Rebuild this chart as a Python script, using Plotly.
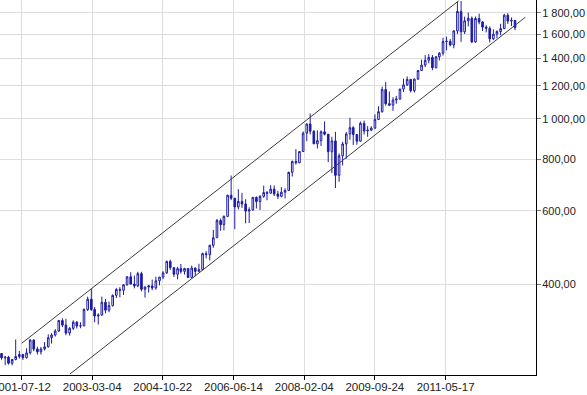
import pandas as pd
import plotly.graph_objects as go

# Monthly candles, Jan 2001 .. Dec 2012
months = pd.date_range("2001-01-01", "2012-12-01", freq="MS")
dates = months + pd.Timedelta(days=24)

open_ = [
    272.0, 265.6, 266.7, 257.7, 263.2, 267.5, 270.6, 265.9, 273.0, 293.1, 278.8, 274.7,
    279.0, 282.3, 296.9, 301.4, 308.2, 326.6, 318.5, 304.7, 312.8, 323.7, 316.9, 317.2,
    347.2, 367.5, 347.5, 334.9, 336.8, 361.4, 346.0, 354.8, 375.6, 388.0, 386.3, 398.4,
    416.3, 399.8, 395.9, 423.7, 388.5, 393.3, 395.8, 391.4, 407.3, 415.7, 425.6, 453.4,
    438.0, 422.2, 435.5, 429.0, 435.7, 414.5, 437.1, 429.0, 433.3, 473.3, 470.8, 495.7,
    517.0, 568.8, 556.0, 582.0, 654.5, 643.5, 613.5, 632.5, 623.5, 599.3, 603.8, 646.7,
    632.0, 650.5, 664.2, 661.8, 677.0, 659.1, 650.5, 665.5, 672.0, 743.0, 789.5, 783.5,
    833.8, 923.3, 971.5, 933.5, 871.0, 885.8, 930.3, 918.0, 833.0, 884.5, 730.8, 814.5,
    869.8, 919.5, 952.0, 916.5, 883.3, 975.5, 934.5, 939.0, 949.5, 995.8, 1040.0, 1175.8,
    1087.5, 1078.5, 1109.5, 1115.5, 1179.3, 1207.5, 1244.5, 1169.0, 1246.0, 1307.0, 1346.8, 1383.5,
    1405.5, 1327.0, 1411.0, 1439.0, 1535.5, 1536.5, 1505.5, 1628.5, 1813.5, 1620.0, 1722.0, 1746.0,
    1531.0, 1744.0, 1711.0, 1662.5, 1651.3, 1558.0, 1598.5, 1622.0, 1648.5, 1776.0, 1719.0, 1726.0,
]
high = [
    272.6, 268.0, 268.5, 264.0, 294.0, 276.0, 271.5, 280.0, 295.0, 294.5, 282.5, 282.0,
    290.0, 302.5, 304.5, 311.5, 327.5, 330.5, 330.0, 315.0, 327.0, 325.5, 323.5, 349.5,
    373.0, 389.0, 352.0, 340.0, 373.0, 368.0, 363.0, 377.5, 391.0, 393.0, 399.5, 417.5,
    427.0, 419.0, 428.0, 428.0, 395.0, 398.0, 410.0, 416.5, 416.0, 429.5, 455.5, 457.5,
    439.0, 440.0, 447.0, 437.5, 436.5, 443.0, 438.0, 447.5, 476.0, 480.0, 497.5, 540.0,
    574.0, 575.0, 585.0, 656.0, 730.0, 645.0, 677.0, 663.0, 640.0, 612.0, 648.5, 650.0,
    654.5, 690.0, 670.0, 692.0, 691.0, 671.0, 684.5, 680.0, 746.0, 793.0, 845.0, 835.0,
    932.0, 975.0, 1030.0, 938.0, 938.0, 938.0, 986.0, 918.0, 905.0, 930.0, 825.0, 880.0,
    930.0, 1006.0, 960.0, 918.0, 985.0, 990.0, 960.0, 960.0, 1025.0, 1072.0, 1195.0, 1226.0,
    1163.0, 1127.0, 1135.0, 1180.0, 1249.0, 1265.0, 1245.0, 1251.0, 1310.0, 1388.0, 1424.0, 1432.0,
    1424.0, 1413.0, 1447.0, 1568.0, 1577.0, 1556.0, 1632.0, 1911.0, 1920.0, 1762.0, 1803.0, 1764.0,
    1763.0, 1791.0, 1720.0, 1680.0, 1669.0, 1642.0, 1633.0, 1694.0, 1790.0, 1796.0, 1754.0, 1727.0,
]
low = [
    262.8, 255.0, 255.8, 254.9, 262.0, 264.5, 262.5, 264.5, 270.5, 275.5, 270.5, 270.5,
    276.5, 281.0, 287.5, 299.0, 306.5, 315.0, 301.0, 300.5, 310.0, 312.5, 313.0, 316.5,
    344.5, 344.5, 323.5, 319.5, 335.5, 340.0, 342.0, 353.0, 370.0, 371.5, 376.5, 396.0,
    399.0, 390.5, 393.0, 384.0, 371.0, 381.5, 386.5, 387.5, 397.0, 411.0, 423.0, 432.5,
    416.0, 410.5, 423.5, 421.5, 414.0, 414.0, 417.5, 428.5, 431.5, 461.0, 456.0, 489.0,
    516.5, 537.5, 538.5, 579.5, 637.0, 542.0, 605.0, 610.0, 560.0, 561.0, 600.0, 608.0,
    603.0, 645.0, 636.5, 660.0, 651.5, 641.0, 647.0, 643.0, 670.0, 726.0, 776.0, 782.0,
    832.0, 883.0, 917.0, 868.0, 848.0, 860.0, 912.0, 786.0, 740.0, 681.0, 705.0, 772.0,
    801.0, 890.0, 865.0, 866.0, 880.0, 916.0, 905.0, 934.0, 945.0, 995.0, 1035.0, 1075.0,
    1075.0, 1045.0, 1087.0, 1112.0, 1160.0, 1200.0, 1157.0, 1157.0, 1242.0, 1305.0, 1331.0, 1360.0,
    1309.0, 1323.0, 1382.0, 1420.0, 1462.0, 1494.0, 1478.0, 1600.0, 1532.0, 1600.0, 1669.0, 1523.0,
    1524.0, 1689.0, 1627.0, 1615.0, 1527.0, 1547.0, 1563.0, 1589.0, 1646.0, 1692.0, 1672.0, 1635.0,
]
close = [
    265.6, 266.7, 257.7, 263.2, 267.5, 270.6, 265.9, 273.0, 293.1, 278.8, 274.7, 279.0,
    282.3, 296.9, 301.4, 308.2, 326.6, 318.5, 304.7, 312.8, 323.7, 316.9, 317.2, 347.2,
    367.5, 347.5, 334.9, 336.8, 361.4, 346.0, 354.8, 375.6, 388.0, 386.3, 398.4, 416.3,
    399.8, 395.9, 423.7, 388.5, 393.3, 395.8, 391.4, 407.3, 415.7, 425.6, 453.4, 438.0,
    422.2, 435.5, 429.0, 435.7, 414.5, 437.1, 429.0, 433.3, 473.3, 470.8, 495.7, 517.0,
    568.8, 556.0, 582.0, 654.5, 643.5, 613.5, 632.5, 623.5, 599.3, 603.8, 646.7, 632.0,
    650.5, 664.2, 661.8, 677.0, 659.1, 650.5, 665.5, 672.0, 743.0, 789.5, 783.5, 833.8,
    923.3, 971.5, 933.5, 871.0, 885.8, 930.3, 918.0, 833.0, 884.5, 730.8, 814.5, 869.8,
    919.5, 952.0, 916.5, 883.3, 975.5, 934.5, 939.0, 949.5, 995.8, 1040.0, 1175.8, 1087.5,
    1078.5, 1109.5, 1115.5, 1179.3, 1207.5, 1244.5, 1169.0, 1246.0, 1307.0, 1346.8, 1383.5, 1405.5,
    1327.0, 1411.0, 1439.0, 1535.5, 1536.5, 1505.5, 1628.5, 1813.5, 1620.0, 1722.0, 1746.0, 1531.0,
    1744.0, 1711.0, 1662.5, 1651.3, 1558.0, 1598.5, 1622.0, 1648.5, 1776.0, 1719.0, 1726.0, 1657.5,
]

# Trend channel anchors (date, value)
upper_dates = ["2001-07-15", "2011-09-04"]
upper_vals = [287.9, 1923.0]
lower_dates = ["2002-08-28", "2013-03-22"]
lower_vals = [242.8, 1756.0]

x_tick_dates = ["2001-07-12", "2003-03-04", "2004-10-22", "2006-06-14",
                "2008-02-04", "2009-09-24", "2011-05-17"]
y_tick_vals = [400, 600, 800, 1000, 1200, 1400, 1600, 1800]
y_tick_text = ["400,00", "600,00", "800,00", "1 000,00", "1 200,00",
               "1 400,00", "1 600,00", "1 800,00"]

BLUE = "#1c1ca4"

fig = go.Figure()
fig.add_trace(go.Candlestick(
    x=dates, open=open_, high=high, low=low, close=close,
    increasing=dict(line=dict(color=BLUE, width=1), fillcolor="white"),
    decreasing=dict(line=dict(color=BLUE, width=1), fillcolor=BLUE),
    whiskerwidth=0,
))
for dx, dy in [(upper_dates, upper_vals), (lower_dates, lower_vals)]:
    fig.add_trace(go.Scatter(x=dx, y=dy, mode="lines",
                             line=dict(color="#3c3c3c", width=1),
                             hoverinfo="skip"))

fig.update_layout(
    width=587, height=395,
    margin=dict(l=0, r=51, t=0, b=20),
    paper_bgcolor="white", plot_bgcolor="white",
    showlegend=False,
    font=dict(family="Liberation Sans, Arial, sans-serif", size=12, color="#222"),
)
fig.update_xaxes(
    type="date", range=["2001-01-12", "2013-06-21"],
    rangeslider=dict(visible=False),
    tickvals=x_tick_dates, ticktext=x_tick_dates,
    tickfont=dict(size=11.5),
    showgrid=True, gridcolor="#dedede", gridwidth=1,
    showline=True, linecolor="black", linewidth=1,
    ticks="outside", ticklen=4, tickcolor="black",
    ticklabelstandoff=-3,
    ticklabeloverflow="allow", zeroline=False, automargin=False,
)
fig.update_yaxes(
    type="log", side="right",
    range=[2.3829, 3.2861],
    tickvals=y_tick_vals, ticktext=y_tick_text,
    tickfont=dict(size=11),
    showgrid=True, gridcolor="#dedede", gridwidth=1,
    showline=True, linecolor="black", linewidth=1,
    ticks="outside", ticklen=4, tickcolor="#777",
    ticklabelstandoff=-1,
    zeroline=False, automargin=False,
)

fig.write_html("out.html")
